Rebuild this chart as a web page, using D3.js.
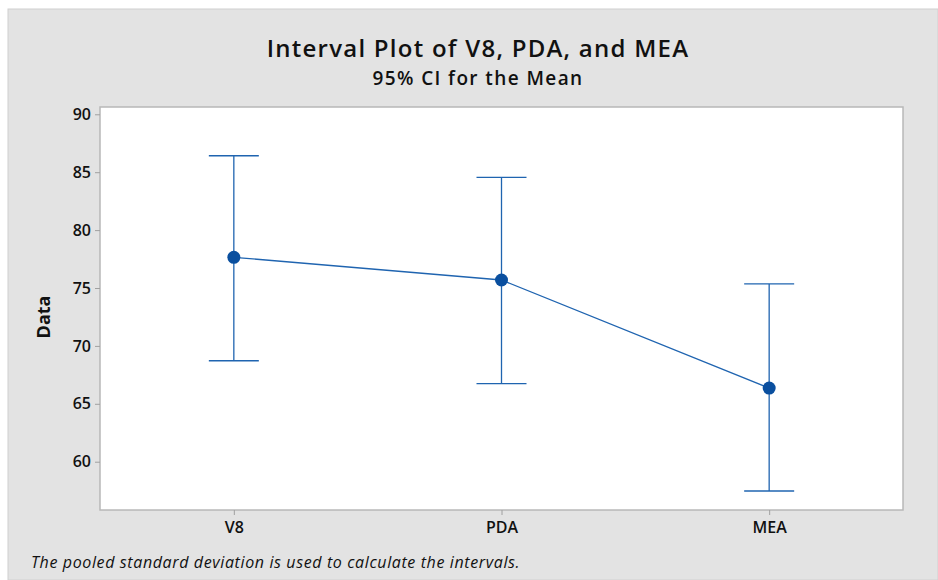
<!DOCTYPE html>
<html>
<head>
<meta charset="utf-8">
<script src="https://cdn.jsdelivr.net/npm/d3@7"></script>
<style>
  body { margin: 0; background: #fff; }
  svg text { font-family: "Open Sans", "Noto Sans", sans-serif; fill: #111; }
</style>
</head>
<body>
<div id="chart"></div>
<script>
// data
var groups = ["V8", "PDA", "MEA"];
var means = [77.65, 75.69, 66.36];
var lower = [68.72, 66.74, 57.47];
var upper = [86.42, 84.56, 75.35];
var yTicks = [60, 65, 70, 75, 80, 85, 90];

var W = 938, H = 580;
var margin = {top: 107, right: 35, bottom: 70, left: 100},
    width = W - margin.left - margin.right,
    height = H - margin.top - margin.bottom;

var svg = d3.select("#chart")
  .append("svg")
  .attr("width", W)
  .attr("height", H);

// grey page with a thin light edge
svg.append("rect")
  .attr("x", 8).attr("y", 9)
  .attr("width", W - 8).attr("height", H - 9)
  .attr("fill", "#e3e3e3")
  .attr("stroke", "#d0d0d0");

svg.append("text")
  .attr("x", 478).attr("y", 57)
  .attr("text-anchor", "middle")
  .attr("font-size", "24px")
  .attr("font-weight", 600)
  .attr("letter-spacing", "1.25px")
  .text("Interval Plot of V8, PDA, and MEA");

svg.append("text")
  .attr("x", 478).attr("y", 85)
  .attr("text-anchor", "middle")
  .attr("font-size", "19px")
  .attr("font-weight", 600)
  .attr("letter-spacing", "1.4px")
  .text("95% CI for the Mean");

var g = svg.append("g")
  .attr("transform", "translate(" + margin.left + "," + margin.top + ")");

var x = d3.scalePoint()
  .domain(groups)
  .range([0, width])
  .padding(0.5);

var y = d3.scaleLinear()
  .domain([55.83, 90.63])
  .range([height, 0]);

// plot frame
g.append("rect")
  .attr("width", width).attr("height", height)
  .attr("fill", "#fff")
  .attr("stroke", "#b8b8b8")
  .attr("stroke-width", 1.5);

// y axis
var yAxis = g.append("g")
  .call(d3.axisLeft(y).tickValues(yTicks).tickSize(5).tickPadding(4));
yAxis.select(".domain").remove();
yAxis.selectAll(".tick line").attr("stroke", "#a0a0a0");
yAxis.selectAll(".tick text")
  .attr("font-size", "16px")
  .attr("font-weight", 600)
  .attr("font-family", "Open Sans, sans-serif")
  .attr("fill", "#111");

// x axis
var xAxis = g.append("g")
  .attr("transform", "translate(0," + height + ")")
  .call(d3.axisBottom(x).tickSize(5).tickPadding(7));
xAxis.select(".domain").remove();
xAxis.selectAll(".tick line").attr("stroke", "#a0a0a0");
xAxis.selectAll(".tick text")
  .attr("font-size", "16px")
  .attr("font-weight", 600)
  .attr("font-family", "Open Sans, sans-serif")
  .attr("fill", "#111");

// y label
g.append("text")
  .attr("transform", "rotate(-90)")
  .attr("x", -(y(72.5)))
  .attr("y", -50)
  .attr("text-anchor", "middle")
  .attr("font-size", "18px")
  .attr("font-weight", 700)
  .text("Data");

var blue = "#1f64b0";
var data = groups.map(function(d, i) {
  return {name: d, mean: means[i], lo: lower[i], hi: upper[i]};
});

// interval bars
var bars = g.selectAll(".bar").data(data).enter().append("g");
bars.append("line")
  .attr("x1", function(d) { return x(d.name); })
  .attr("x2", function(d) { return x(d.name); })
  .attr("y1", function(d) { return y(d.lo); })
  .attr("y2", function(d) { return y(d.hi); })
  .attr("stroke", blue).attr("stroke-width", 1.3);
bars.append("line")
  .attr("x1", function(d) { return x(d.name) - 25; })
  .attr("x2", function(d) { return x(d.name) + 25; })
  .attr("y1", function(d) { return y(d.hi); })
  .attr("y2", function(d) { return y(d.hi); })
  .attr("stroke", blue).attr("stroke-width", 1.3);
bars.append("line")
  .attr("x1", function(d) { return x(d.name) - 25; })
  .attr("x2", function(d) { return x(d.name) + 25; })
  .attr("y1", function(d) { return y(d.lo); })
  .attr("y2", function(d) { return y(d.lo); })
  .attr("stroke", blue).attr("stroke-width", 1.3);

// connect line of means
var line = d3.line()
  .x(function(d) { return x(d.name); })
  .y(function(d) { return y(d.mean); });
g.append("path")
  .datum(data)
  .attr("d", line)
  .attr("fill", "none")
  .attr("stroke", blue)
  .attr("stroke-width", 1.3);

g.selectAll(".dot").data(data).enter().append("circle")
  .attr("cx", function(d) { return x(d.name); })
  .attr("cy", function(d) { return y(d.mean); })
  .attr("r", 6.5)
  .attr("fill", "#0a4f9f");

// footnote
svg.append("text")
  .attr("x", 31).attr("y", 568)
  .attr("font-size", "16px")
  .attr("font-style", "italic")
  .attr("letter-spacing", "0.62px")
  .text("The pooled standard deviation is used to calculate the intervals.");
</script>
</body>
</html>
